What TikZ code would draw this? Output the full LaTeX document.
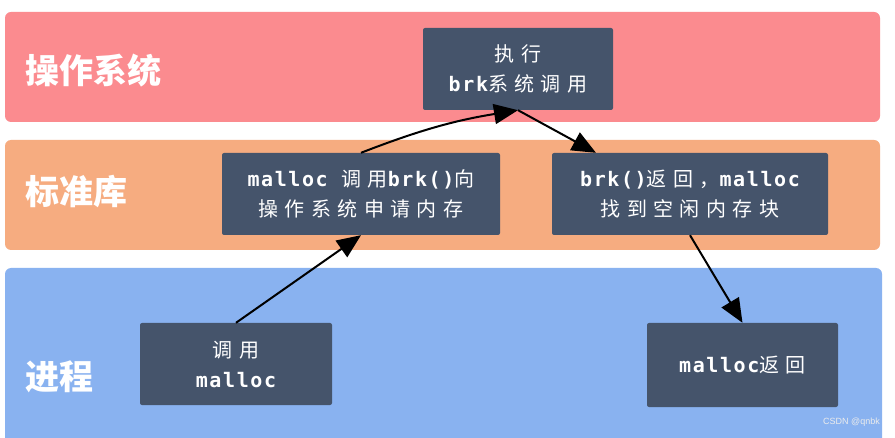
\documentclass[tikz,border=0pt]{standalone}
\usepackage{fontspec}
\setmainfont{Liberation Sans}
\usetikzlibrary{arrows.meta,calc}
\newfontfamily\cjk[LetterSpace=32]{Noto Sans CJK SC}
\newfontfamily\cjklab{Noto Sans CJK SC}
\newfontfamily\mono[LetterSpace=8]{DejaVu Sans Mono}
\newcommand{\zh}[1]{{\cjk #1}}
\newcommand{\en}[1]{{\mono\bfseries #1}}
\definecolor{redc}{RGB}{251,139,143}
\definecolor{orangec}{RGB}{246,172,128}
\definecolor{bluec}{RGB}{137,178,240}
\definecolor{boxc}{RGB}{69,84,107}
\tikzset{
  box/.style={fill=boxc, text=white, align=center, inner sep=0pt, rounded corners=2pt,
    font=\fontsize{20}{30}\selectfont},
  lab/.style={text=white, inner sep=0pt, anchor=west,
    font=\cjklab\bfseries\fontsize{34}{40}\selectfont},
  arr/.style={draw=black, line width=2pt, -{Triangle[length=24pt,width=20pt]}},
}
\begin{document}
\begin{tikzpicture}[x=1pt,y=1pt]
\useasboundingbox (0,0) rectangle (895,437);
\fill[white] (0,0) rectangle (895,437);
% bands
\fill[redc, rounded corners=6pt] (5,315) rectangle (880,425);
\fill[orangec, rounded corners=6pt] (5,187) rectangle (880,297);
\fill[bluec, rounded corners=6pt] (5,-10) rectangle (882,169);
% labels
\node[lab] (los) at (25,366) {操作系统};
\node[lab] (llib) at (25,245) {标准库};
\node[lab] (lproc) at (25,60) {进程};
% boxes
\node[box, minimum width=190pt, minimum height=82pt] (os) at (518,368)
  {\zh{执行}\\\en{brk}\zh{系统调用}};
\node[box, minimum width=278pt, minimum height=82pt] (lib1) at (361,243)
  {\en{malloc }\zh{调用}\en{brk()}\zh{向}\\\zh{操作系统申请内存}};
\node[box, minimum width=276pt, minimum height=82pt] (lib2) at (690,243)
  {\en{brk()}\zh{返回，}\en{malloc}\\\zh{找到空闲内存块}};
\node[box, minimum width=192pt, minimum height=82pt] (proc1) at (236,73)
  {\zh{调用}\\\en{malloc}};
\node[box, minimum width=191pt, minimum height=84pt] (proc2) at (742.5,72)
  {\en{malloc}\zh{返回}};
% arrows
\draw[arr] (proc1.north) -- (lib1.south);
\draw[arr] (lib1.north) to[bend left=6] (os.south);
\draw[arr] (os.south) -- ([xshift=-94pt]lib2.north);
\draw[arr] (lib2.south) -- (proc2.north);
% watermark
\node[anchor=east, inner sep=0pt, text=white!85!gray, font=\fontsize{9}{10}\selectfont] (wm) at (880,15) {CSDN @qnbk};
\end{tikzpicture}
\end{document}
